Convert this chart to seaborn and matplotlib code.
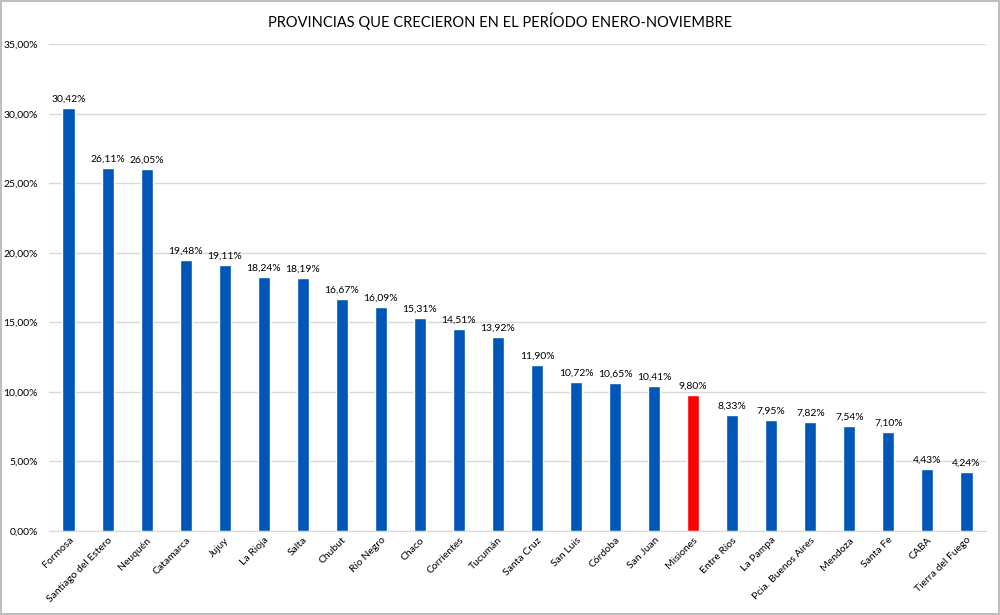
import matplotlib
matplotlib.use('Agg')
import matplotlib.pyplot as plt
import seaborn as sns
import pandas as pd
from matplotlib.ticker import FuncFormatter

provincias = [
    'Formosa', 'Santiago del Estero', 'Neuquén', 'Catamarca', 'Jujuy',
    'La Rioja', 'Salta', 'Chubut', 'Río Negro', 'Chaco', 'Corrientes',
    'Tucumán', 'Santa Cruz', 'San Luis', 'Córdoba', 'San Juan', 'Misiones',
    'Entre Ríos', 'La Pampa', 'Pcia. Buenos Aires', 'Mendoza', 'Santa Fe',
    'CABA', 'Tierra del Fuego'
]
crecimiento = [
    30.42, 26.11, 26.05, 19.48, 19.11, 18.24, 18.19, 16.67, 16.09, 15.31,
    14.51, 13.92, 11.90, 10.72, 10.65, 10.41, 9.80, 8.33, 7.95, 7.82,
    7.54, 7.10, 4.43, 4.24
]
destacada = 'Misiones'

AZUL = '#0057B8'
ROJO = '#FF0000'

df = pd.DataFrame({'provincia': provincias, 'crecimiento': crecimiento})
df['grupo'] = ['rojo' if p == destacada else 'azul' for p in df['provincia']]

sns.set_style('white')
plt.rcParams['font.family'] = ['Lato', 'DejaVu Sans']

fig = plt.figure(figsize=(10, 6.15), dpi=100)
ax = fig.add_axes([0.049, 0.137, 0.937, 0.791])

sns.barplot(data=df, x='provincia', y='crecimiento', hue='grupo',
            palette={'azul': AZUL, 'rojo': ROJO}, dodge=False,
            width=0.31, legend=False, ax=ax, saturation=1)

def fmt_pct(v):
    return f'{v:.2f}'.replace('.', ',') + '%'

for cont in ax.containers:
    vals = [b.get_height() for b in cont]
    ax.bar_label(cont, labels=[fmt_pct(v) for v in vals], padding=3,
                 fontsize=7.5, color='#000000')

ax.set_ylim(0, 35)
ax.set_yticks(range(0, 36, 5))
ax.yaxis.set_major_formatter(FuncFormatter(lambda v, _: fmt_pct(v)))
ax.grid(axis='y', color='#D9D9D9', lw=1)
ax.set_axisbelow(True)
for s in ['top', 'right', 'left']:
    ax.spines[s].set_visible(False)
ax.spines['bottom'].set_color('#D9D9D9')
ax.tick_params(axis='both', length=0, labelsize=7.5, colors='#000000')
ax.tick_params(axis='y', pad=8)
plt.setp(ax.get_xticklabels(), rotation=45, ha='right', rotation_mode='anchor')
ax.set_xlabel('')
ax.set_ylabel('')

fig.text(0.5, 0.965, 'PROVINCIAS QUE CRECIERON EN EL PERÍODO ENERO-NOVIEMBRE',
         ha='center', va='center', fontsize=10.5, color='#000000')

# marco gris alrededor del gráfico
fig.patches.append(plt.Rectangle((0.001, 0.001), 0.998, 0.998,
                                 transform=fig.transFigure, fill=False,
                                 edgecolor='#BFBFBF', lw=1.5))

fig.savefig('out.png', dpi=100)
